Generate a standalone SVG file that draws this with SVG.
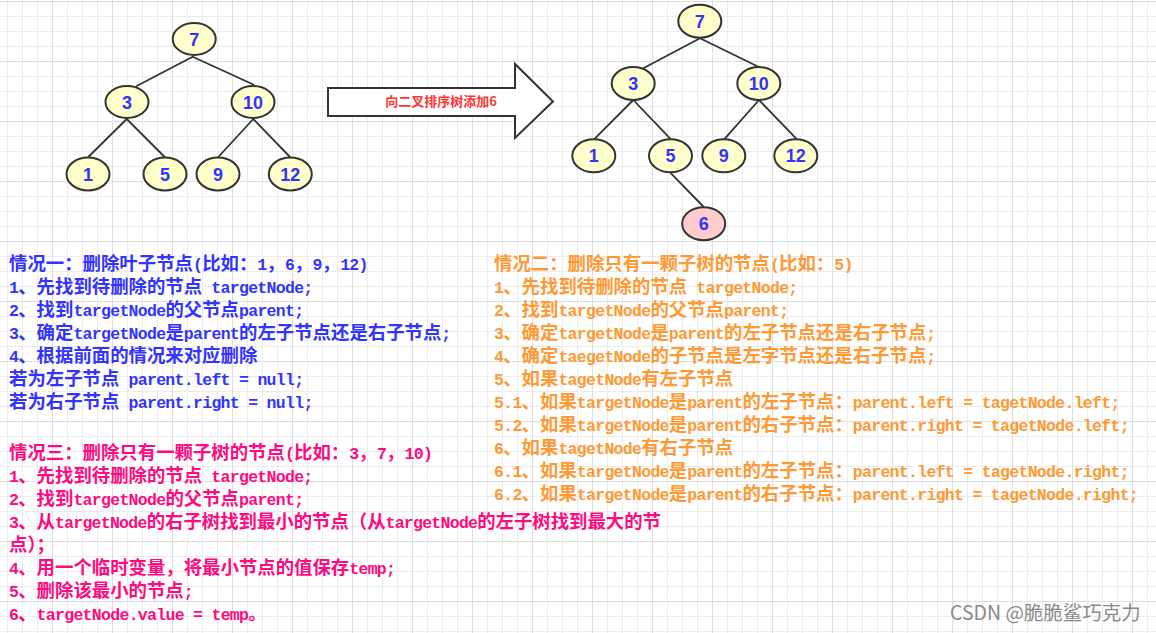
<svg xmlns="http://www.w3.org/2000/svg" width="1156" height="633" viewBox="0 0 1156 633">
<style>
.node ellipse{fill:#ffffcc;stroke:#333;stroke-width:2}
.node.new ellipse{fill:#ffcccc}
.node text{font-family:"Liberation Sans",Arial,sans-serif;font-weight:bold;font-size:18px;fill:#3333ff;text-anchor:middle}
.edges line{stroke:#333;stroke-width:1.8;stroke-linecap:round}
.t{font-family:"Liberation Mono","Noto Sans CJK SC",sans-serif;font-size:18.4px;font-weight:bold}
.m{font-family:"Liberation Mono","Courier New",monospace;font-size:16.5px;letter-spacing:-0.7px;font-weight:bold}
.blue{fill:#3333ff}
.pink{fill:#ff0a80}
.orange{fill:#ff9933}
</style>
<defs>
<pattern id="gmin" x="7" y="1" width="15" height="15" patternUnits="userSpaceOnUse"><path d="M0 0.5H15M0.5 0V15" stroke="#ececec" stroke-width="1" fill="none"/></pattern>
<pattern id="gmaj" x="52" y="1" width="60" height="60" patternUnits="userSpaceOnUse"><path d="M0 0.5H60M0.5 0V60" stroke="#dedede" stroke-width="1" fill="none"/></pattern>
</defs>
<rect width="1156" height="633" fill="#ffffff"/>
<rect width="1156" height="633" fill="url(#gmin)"/>
<rect width="1156" height="633" fill="url(#gmaj)"/>

<g id="connectors" class="edges">
<line x1="192.7" y1="56.7" x2="136.7" y2="86"/>
<line x1="192.7" y1="56.7" x2="253.3" y2="84.5"/>
<line x1="126.7" y1="119" x2="88.3" y2="157"/>
<line x1="126.7" y1="119" x2="164.7" y2="157"/>
<line x1="253.3" y1="119" x2="218.3" y2="157"/>
<line x1="253.3" y1="119" x2="290" y2="157"/>
<line x1="700" y1="38.3" x2="643.3" y2="68.3"/>
<line x1="700" y1="38.3" x2="758.3" y2="66.7"/>
<line x1="633.3" y1="100" x2="595" y2="138.3"/>
<line x1="633.3" y1="100" x2="670" y2="138.3"/>
<line x1="759" y1="100" x2="725" y2="138.3"/>
<line x1="759" y1="100" x2="796" y2="138.3"/>
<line x1="671" y1="173.3" x2="703.3" y2="206.5"/>
</g>

<g id="t1-n7" class="node"><ellipse cx="194.2" cy="39" rx="21.5" ry="16"/><text x="194.2" y="45.5">7</text></g>
<g id="t1-n3" class="node"><ellipse cx="127" cy="102" rx="21.5" ry="16"/><text x="127" y="108.5">3</text></g>
<g id="t1-n10" class="node"><ellipse cx="253" cy="102" rx="21.5" ry="16"/><text x="253" y="108.5">10</text></g>
<g id="t1-n1" class="node"><ellipse cx="88" cy="174" rx="21.5" ry="16.5"/><text x="88" y="180.5">1</text></g>
<g id="t1-n5" class="node"><ellipse cx="165" cy="174" rx="21.5" ry="16.5"/><text x="165" y="180.5">5</text></g>
<g id="t1-n9" class="node"><ellipse cx="218" cy="174" rx="21.5" ry="16.5"/><text x="218" y="180.5">9</text></g>
<g id="t1-n12" class="node"><ellipse cx="290.3" cy="174" rx="21.5" ry="16.5"/><text x="290.3" y="180.5">12</text></g>

<g id="arrow">
<polygon points="328,88 515,88 515,64 553,101.5 515,138 515,116 328,116" fill="#ffffff" stroke="#333" stroke-width="2" stroke-linejoin="miter"/>
<text x="441" y="106" text-anchor="middle" font-family="'Noto Sans CJK SC',sans-serif" font-weight="bold" font-size="13" fill="#ff3333">向二叉排序树添加6</text>
</g>

<g id="t2-n7" class="node"><ellipse cx="699.8" cy="21.2" rx="21.5" ry="16.5"/><text x="699.8" y="27.7">7</text></g>
<g id="t2-n3" class="node"><ellipse cx="633.2" cy="83.5" rx="21.5" ry="16.5"/><text x="633.2" y="90">3</text></g>
<g id="t2-n10" class="node"><ellipse cx="758.8" cy="83.5" rx="21.5" ry="16.5"/><text x="758.8" y="90">10</text></g>
<g id="t2-n1" class="node"><ellipse cx="593.8" cy="155.8" rx="21.5" ry="16.5"/><text x="593.8" y="162.3">1</text></g>
<g id="t2-n5" class="node"><ellipse cx="670.5" cy="155.8" rx="21.5" ry="16.5"/><text x="670.5" y="162.3">5</text></g>
<g id="t2-n9" class="node"><ellipse cx="723.8" cy="155.8" rx="21.5" ry="16.5"/><text x="723.8" y="162.3">9</text></g>
<g id="t2-n12" class="node"><ellipse cx="795.8" cy="155.8" rx="21.5" ry="16.5"/><text x="795.8" y="162.3">12</text></g>
<g id="t2-n6" class="node new"><ellipse cx="703.7" cy="223.7" rx="21.5" ry="16.5"/><text x="703.7" y="230.2">6</text></g>

<g id="case1" class="t blue">
<text x="9" y="270">情况一：删除叶子节点<tspan class="m">(</tspan>比如：<tspan class="m">1</tspan>，<tspan class="m">6</tspan>，<tspan class="m">9</tspan>，<tspan class="m">12)</tspan></text>
<text x="9" y="293"><tspan class="m">1</tspan>、先找到待删除的节点<tspan class="m"> targetNode;</tspan></text>
<text x="9" y="316"><tspan class="m">2</tspan>、找到<tspan class="m">targetNode</tspan>的父节点<tspan class="m">parent;</tspan></text>
<text x="9" y="339"><tspan class="m">3</tspan>、确定<tspan class="m">targetNode</tspan>是<tspan class="m">parent</tspan>的左子节点还是右子节点<tspan class="m">;</tspan></text>
<text x="9" y="362"><tspan class="m">4</tspan>、根据前面的情况来对应删除</text>
<text x="9" y="385">若为左子节点<tspan class="m"> parent.left = null;</tspan></text>
<text x="9" y="408">若为右子节点<tspan class="m"> parent.right = null;</tspan></text>
</g>

<g id="case2" class="t orange">
<text x="494" y="270">情况二：删除只有一颗子树的节点<tspan class="m">(</tspan>比如：<tspan class="m">5)</tspan></text>
<text x="494" y="293"><tspan class="m">1</tspan>、先找到待删除的节点<tspan class="m"> targetNode;</tspan></text>
<text x="494" y="316"><tspan class="m">2</tspan>、找到<tspan class="m">targetNode</tspan>的父节点<tspan class="m">parent;</tspan></text>
<text x="494" y="339"><tspan class="m">3</tspan>、确定<tspan class="m">targetNode</tspan>是<tspan class="m">parent</tspan>的左子节点还是右子节点<tspan class="m">;</tspan></text>
<text x="494" y="362"><tspan class="m">4</tspan>、确定<tspan class="m">taegetNode</tspan>的子节点是左字节点还是右子节点<tspan class="m">;</tspan></text>
<text x="494" y="385"><tspan class="m">5</tspan>、如果<tspan class="m">tagetNode</tspan>有左子节点</text>
<text x="494" y="408"><tspan class="m">5.1</tspan>、如果<tspan class="m">targetNode</tspan>是<tspan class="m">parent</tspan>的左子节点：<tspan class="m">parent.left = tagetNode.left;</tspan></text>
<text x="494" y="431"><tspan class="m">5.2</tspan>、如果<tspan class="m">targetNode</tspan>是<tspan class="m">parent</tspan>的右子节点：<tspan class="m">parent.right = tagetNode.left;</tspan></text>
<text x="494" y="454"><tspan class="m">6</tspan>、如果<tspan class="m">tagetNode</tspan>有右子节点</text>
<text x="494" y="477"><tspan class="m">6.1</tspan>、如果<tspan class="m">targetNode</tspan>是<tspan class="m">parent</tspan>的左子节点：<tspan class="m">parent.left = tagetNode.right;</tspan></text>
<text x="494" y="500"><tspan class="m">6.2</tspan>、如果<tspan class="m">targetNode</tspan>是<tspan class="m">parent</tspan>的右子节点：<tspan class="m">parent.right = tagetNode.right;</tspan></text>
</g>

<g id="case3" class="t pink">
<text x="9" y="458.5">情况三：删除只有一颗子树的节点<tspan class="m">(</tspan>比如：<tspan class="m">3</tspan>，<tspan class="m">7</tspan>，<tspan class="m">10)</tspan></text>
<text x="9" y="481.5"><tspan class="m">1</tspan>、先找到待删除的节点<tspan class="m"> targetNode;</tspan></text>
<text x="9" y="504.5"><tspan class="m">2</tspan>、找到<tspan class="m">targetNode</tspan>的父节点<tspan class="m">parent;</tspan></text>
<text x="9" y="527.5" textLength="652" lengthAdjust="spacing"><tspan class="m">3</tspan>、从<tspan class="m">targetNode</tspan>的右子树找到最小的节点（从<tspan class="m">targetNode</tspan>的左子树找到最大的节</text>
<text x="9" y="550.5">点）；</text>
<text x="9" y="573.5"><tspan class="m">4</tspan>、用一个临时变量，将最小节点的值保存<tspan class="m">temp;</tspan></text>
<text x="9" y="596.5"><tspan class="m">5</tspan>、删除该最小的节点<tspan class="m">;</tspan></text>
<text x="9" y="619.5"><tspan class="m">6</tspan>、<tspan class="m">targetNode.value = temp</tspan>。</text>
</g>

<text id="watermark" x="950" y="620" font-family="'Noto Sans CJK SC',sans-serif" font-size="19.5" fill="#8a8a8a">CSDN @脆脆鲨巧克力</text>
</svg>
